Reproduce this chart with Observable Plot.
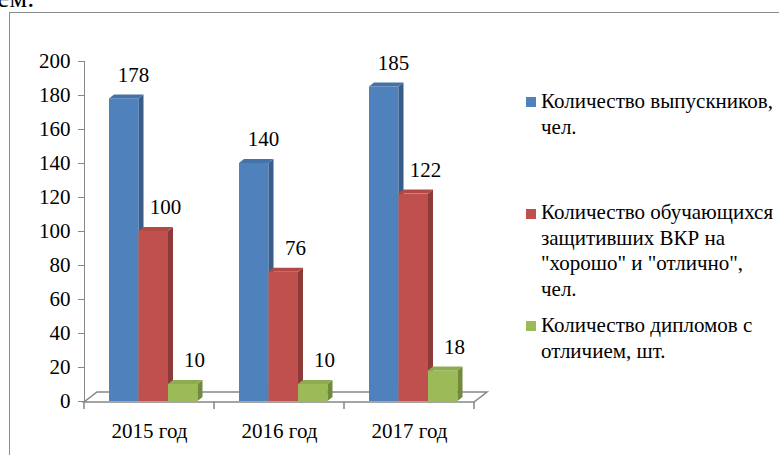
<!DOCTYPE html>
<html>
<head>
<meta charset="utf-8">
<script src="https://cdn.jsdelivr.net/npm/d3@7"></script>
<script src="https://cdn.jsdelivr.net/npm/@observablehq/plot@0.6"></script>
<style>
  html, body { margin: 0; padding: 0; background: #fff; }
  #wrap { position: relative; width: 779px; height: 455px; overflow: hidden; font-family: "Liberation Serif", "DejaVu Serif", "Noto Serif", serif; }
  #head { position: absolute; left: -3px; top: -16px; font-size: 28px; line-height: 28px; color: #000; }
  #box { position: absolute; left: 9px; top: 12px; width: 772px; height: 460px; border: 1px solid #8a8a8a; box-sizing: border-box; }
  #chart { position: absolute; left: 0; top: 0; }
  #chart svg text { fill: #000; font-size: 21px; font-family: "Liberation Serif", "DejaVu Serif", "Noto Serif", serif; }
  .leg { position: absolute; left: 541px; font-size: 21px; line-height: 25.5px; white-space: nowrap; color: #000; }
  .sw { position: absolute; left: 526px; width: 10px; height: 10px; }
  #t1 { font-family: "Tinos", "Liberation Serif"; }
</style>
</head>
<body>
<div id="wrap">
  <div id="head">ем.</div>
  <div id="box"></div>
  <div id="chart"></div>
</div>
<script>
// ---- data ----
const years = ["2015 год", "2016 год", "2017 год"];
const seriesNames = [
  "Количество выпускников, чел.",
  "Количество обучающихся защитивших ВКР на \"хорошо\" и \"отлично\", чел.",
  "Количество дипломов с отличием, шт."
];
const legendLines = [
  ["Количество выпускников,", "чел."],
  ["Количество обучающихся", "защитивших ВКР на", "\"хорошо\" и \"отлично\",", "чел."],
  ["Количество дипломов с", "отличием, шт."]
];
const graduates = [178, 140, 185];
const goodExcellent = [100, 76, 122];
const honours = [10, 10, 18];
const yTicks = [0, 20, 40, 60, 80, 100, 120, 140, 160, 180, 200];

// ---- styles ----
const frontColors = ["#4F81BD", "#C0504D", "#9BBB59"];
const sideColors = ["#385D8A", "#8C3B39", "#718A3F"];
const topColors = ["#4672AA", "#B14A47", "#8DAC50"];
const axisColor = "#868686";

const seriesValues = [graduates, goodExcellent, honours];
const tables = seriesValues.map((vals, s) =>
  years.map((y, i) => ({year: y, value: vals[i], series: seriesNames[s]}))
);

// bar placement inside each 130px category band (left inset, right inset)
const insets = [[25, 75.5], [54.5, 46], [84, 16.5]];
const labelDx = [-16, 16, 45];

const marks = [];
tables.forEach((t, s) => {
  marks.push(Plot.barY(t, {x: "year", y: "value", fill: frontColors[s],
    insetLeft: insets[s][0], insetRight: insets[s][1]}));
});
tables.forEach((t, s) => {
  marks.push(Plot.text(t, {x: "year", y: "value", text: d => String(d.value),
    dx: labelDx[s], dy: -24, fill: "#000"}));
});

const plot = Plot.plot({
  width: 779,
  height: 455,
  marginLeft: 84,
  marginRight: 305,
  marginTop: 61,
  marginBottom: 54,
  style: {color: axisColor, background: "transparent"},
  x: {domain: years, padding: 0, tickSize: 0, tickPadding: 22, label: null},
  y: {domain: [0, 200], ticks: yTicks, tickSize: 6, tickPadding: 8, label: null, line: true},
  marks
});
document.getElementById("chart").appendChild(plot);

// ---- 3D extrusion & floor, derived from Plot's scales/rects ----
const svg = d3.select(plot);
const DX = 5, DY = -4;
svg.selectAll('g[aria-label="bar"]').each(function(_, s) {
  const g = d3.select(this);
  g.selectAll("rect").each(function() {
    const r = d3.select(this);
    const x = +r.attr("x"), y = +r.attr("y"), w = +r.attr("width"), h = +r.attr("height");
    const parent = this.parentNode;
    const side = document.createElementNS("http://www.w3.org/2000/svg", "polygon");
    side.setAttribute("points", `${x+w},${y} ${x+w+DX},${y+DY} ${x+w+DX},${y+h+DY} ${x+w},${y+h}`);
    side.setAttribute("fill", sideColors[s]);
    const top = document.createElementNS("http://www.w3.org/2000/svg", "polygon");
    top.setAttribute("points", `${x},${y} ${x+w},${y} ${x+w+DX},${y+DY} ${x+DX},${y+DY}`);
    top.setAttribute("fill", topColors[s]);
    parent.appendChild(side);
    parent.appendChild(top);
  });
});

const xs = plot.scale("x"), ys = plot.scale("y");
const x0 = xs.range[0], x1 = xs.range[1];
const y0 = ys.apply(0) + 1;
const FX = 13, FY = -10;
const floor = svg.insert("g", ":first-child").attr("fill", "none").attr("stroke", axisColor).attr("stroke-width", 1.5);
floor.append("path").attr("d", `M${x0},${y0}L${x1},${y0}L${x1+FX},${y0+FY}L${x0+FX},${y0+FY}Z`);
const bounds = years.map(y => xs.apply(y)).concat([x1]);
bounds.forEach(b => floor.append("line").attr("x1", b).attr("x2", b).attr("y1", y0).attr("y2", y0 + 7));

// ---- legend ----
const wrap = document.getElementById("wrap");
const legTops = [89, 200, 313];
const swTops = [97, 209, 321];
legendLines.forEach((lines, s) => {
  const sw = document.createElement("div");
  sw.className = "sw"; sw.style.top = swTops[s] + "px"; sw.style.background = frontColors[s];
  wrap.appendChild(sw);
  const lg = document.createElement("div");
  lg.className = "leg"; lg.style.top = legTops[s] + "px";
  lines.forEach((l, i) => { if (i) lg.appendChild(document.createElement("br")); lg.appendChild(document.createTextNode(l)); });
  wrap.appendChild(lg);
});
</script>
</body>
</html>
